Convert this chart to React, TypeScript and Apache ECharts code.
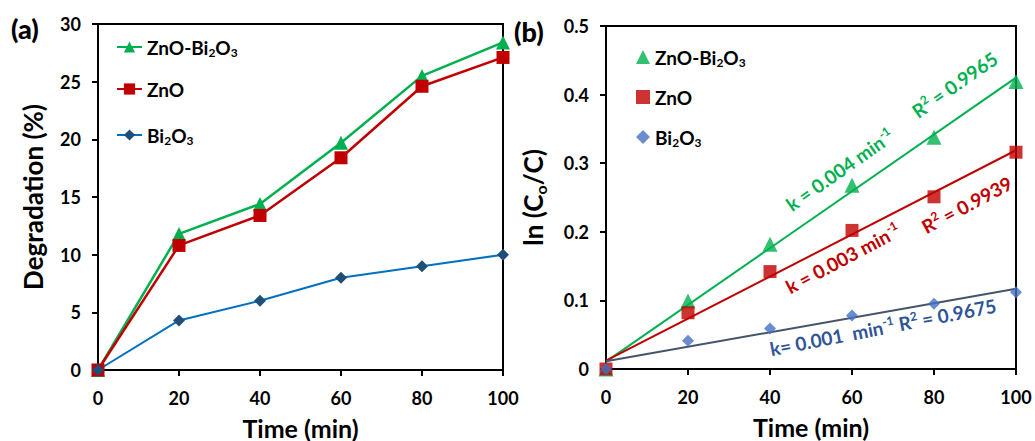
import React, { useEffect, useRef } from "react";
import * as echarts from "echarts";

// ---------- data ----------
const times = [0, 20, 40, 60, 80, 100];
// panel (a): degradation (%)
const degZnOBi = [0, 11.8, 14.4, 19.7, 25.5, 28.4];
const degZnO = [0, 10.8, 13.4, 18.4, 24.6, 27.1];
const degBi = [0, 4.3, 6.0, 8.0, 9.0, 10.0];
// panel (b): ln(C0/C)
const lnZnOBi = [0, 0.099, 0.182, 0.268, 0.338, 0.419];
const lnZnO = [0, 0.082, 0.142, 0.202, 0.251, 0.316];
const lnBi = [0, 0.041, 0.059, 0.078, 0.095, 0.112];
// axes
const xMin = 0, xMax = 100, xStep = 20;
const degMin = 0, degMax = 30, degStep = 5;
const lnMin = 0, lnMax = 0.5, lnStep = 0.1;
// annotation texts
const kZnOBi = "k = 0.004 min{sup|-1}";
const r2ZnOBi = "R{sup|2} = 0.9965";
const kZnO = "k = 0.003 min{sup|-1}";
const r2ZnO = "R{sup|2} = 0.9939";
const kBi = "k= 0.001  min{sup|-1} R{sup|2} = 0.9675";

const FONT = "Lato, 'Open Sans', sans-serif";
const GREEN = "#00b050";
const RED = "#c00000";
const BLUE_LINE = "#0070c0";
const NAVY = "#1f4e79";
const BLUE_PT = "#4472c4";
const SLATE = "#44546a";

const pairs = (ys: number[]) => times.map((t, i) => [t, ys[i]]);

function fit(ys: number[]) {
  const n = times.length;
  const mx = times.reduce((a, b) => a + b, 0) / n;
  const my = ys.reduce((a, b) => a + b, 0) / n;
  let sxy = 0, sxx = 0;
  times.forEach((t, i) => {
    sxy += (t - mx) * (ys[i] - my);
    sxx += (t - mx) * (t - mx);
  });
  const m = sxy / sxx;
  const b = my - m * mx;
  return [[xMin, b], [xMax, b + m * xMax]];
}

const subRich = {
  sub: { fontSize: 12, lineHeight: 12, verticalAlign: "bottom", fontWeight: "bold", fontFamily: FONT, color: "#000" },
};
const chemLabel = (s: string) => s.replace(/(\d)/g, "{sub|$1}");

export default function App() {
  const ref = useRef<HTMLDivElement>(null);
  useEffect(() => {
    if (!ref.current) return;
    const chart = echarts.init(ref.current, undefined, { renderer: "svg" });

    const xAxisBase = (gridIndex: number) => ({
      type: "value",
      gridIndex,
      min: xMin,
      max: xMax,
      interval: xStep,
      axisLine: { show: true, onZero: false, lineStyle: { color: "#000", width: 2 } },
      axisTick: { show: true, inside: false, length: 6, lineStyle: { color: "#000", width: 2 } },
      axisLabel: { color: "#000", fontSize: 18, fontWeight: "bold", fontFamily: FONT, margin: 19 },
      splitLine: { show: false },
      name: "Time (min)",
      nameLocation: "middle",
      nameGap: 45,
      nameTextStyle: { color: "#000", fontSize: 25, fontWeight: "bold", fontFamily: FONT },
    });
    const yAxisBase = (gridIndex: number, min: number, max: number, interval: number) => ({
      type: "value",
      gridIndex,
      min,
      max,
      interval,
      axisLine: { show: true, onZero: false, lineStyle: { color: "#000", width: 2 } },
      axisTick: { show: true, inside: false, length: 6, lineStyle: { color: "#000", width: 2 } },
      axisLabel: { color: "#000", fontSize: 18, fontWeight: "bold", fontFamily: FONT, margin: 17 },
      splitLine: { show: false },
      nameLocation: "middle",
      nameRotate: 90,
    });

    const legendBase = (name: string, left: number, top: number, w: number) => ({
      data: [name],
      left,
      top,
      padding: 0,
      itemWidth: w,
      itemHeight: 14,
      selectedMode: false,
      formatter: (n: string) => chemLabel(n.split(":")[1]),
      textStyle: {
        color: "#000",
        fontSize: 19,
        fontWeight: "bold",
        fontFamily: FONT,
        lineHeight: 22,
        rich: subRich,
      },
    });

    const ann = (text: string, x: number, y: number, deg: number, color: string) => ({
      type: "text",
      x,
      y,
      rotation: (deg * Math.PI) / 180,
      style: {
        text,
        fill: color,
        fontSize: 19,
        fontWeight: "bold",
        fontFamily: FONT,
        lineHeight: 22,
        textAlign: "left",
        textVerticalAlign: "middle",
        rich: {
          sup: { fontSize: 12, lineHeight: 12, verticalAlign: "top", fontWeight: "bold", fontFamily: FONT, fill: color, color },
        },
      },
      z: 100,
    });

    const option: any = {
      animation: false,
      backgroundColor: "#fff",
      grid: [
        { left: 98, top: 24, width: 405, height: 346, show: true, borderColor: "#000", borderWidth: 2, containLabel: false, outerBoundsMode: "none" },
        { left: 606, top: 26, width: 410, height: 343, show: true, borderColor: "#000", borderWidth: 2, containLabel: false, outerBoundsMode: "none" },
      ],
      xAxis: [xAxisBase(0), xAxisBase(1)],
      yAxis: [
        {
          ...yAxisBase(0, degMin, degMax, degStep),
          name: "Degradation (%)",
          nameGap: 52,
          nameTextStyle: { color: "#000", fontSize: 26, fontWeight: "bold", fontFamily: FONT },
        },
        {
          ...yAxisBase(1, lnMin, lnMax, lnStep),
          name: "ln (C{sub|o}/C)",
          nameGap: 58,
          nameTextStyle: {
            color: "#000",
            fontSize: 26,
            fontWeight: "bold",
            fontFamily: FONT,
            lineHeight: 30,
            rich: { sub: { fontSize: 16, lineHeight: 16, verticalAlign: "bottom", fontWeight: "bold", fontFamily: FONT, color: "#000" } },
          },
        },
      ],
      legend: [
        legendBase("a:ZnO-Bi2O3", 116, 36, 25),
        legendBase("a:ZnO", 116, 78, 25),
        legendBase("a:Bi2O3", 116, 124, 25),
        legendBase("b:ZnO-Bi2O3", 636, 46, 14),
        legendBase("b:ZnO", 636, 86, 14),
        legendBase("b:Bi2O3", 636, 126, 14),
      ],
      series: [
        // panel (a)
        {
          name: "a:ZnO-Bi2O3", type: "line", xAxisIndex: 0, yAxisIndex: 0,
          data: pairs(degZnOBi), symbol: "triangle", symbolSize: 14,
          itemStyle: { color: GREEN }, lineStyle: { color: GREEN, width: 2.5 },
        },
        {
          name: "a:ZnO", type: "line", xAxisIndex: 0, yAxisIndex: 0,
          data: pairs(degZnO), symbol: "rect", symbolSize: 13,
          itemStyle: { color: RED }, lineStyle: { color: RED, width: 2.5 },
        },
        {
          name: "a:Bi2O3", type: "line", xAxisIndex: 0, yAxisIndex: 0,
          data: pairs(degBi), symbol: "diamond", symbolSize: 12,
          itemStyle: { color: NAVY }, lineStyle: { color: BLUE_LINE, width: 2 },
        },
        // panel (b) trend lines
        {
          name: "fitZnOBi", type: "line", xAxisIndex: 1, yAxisIndex: 1, data: fit(lnZnOBi),
          showSymbol: false, symbol: "none", lineStyle: { color: GREEN, width: 2 }, z: 1,
        },
        {
          name: "fitZnO", type: "line", xAxisIndex: 1, yAxisIndex: 1, data: fit(lnZnO),
          showSymbol: false, symbol: "none", lineStyle: { color: RED, width: 2 }, z: 1,
        },
        {
          name: "fitBi", type: "line", xAxisIndex: 1, yAxisIndex: 1, data: fit(lnBi),
          showSymbol: false, symbol: "none", lineStyle: { color: SLATE, width: 2 }, z: 1,
        },
        // panel (b) points
        {
          name: "b:ZnO-Bi2O3", type: "scatter", xAxisIndex: 1, yAxisIndex: 1,
          data: pairs(lnZnOBi), symbol: "triangle", symbolSize: 15, itemStyle: { color: GREEN }, z: 3,
        },
        {
          name: "b:ZnO", type: "scatter", xAxisIndex: 1, yAxisIndex: 1,
          data: pairs(lnZnO), symbol: "rect", symbolSize: 13, itemStyle: { color: RED }, z: 3,
        },
        {
          name: "b:Bi2O3", type: "scatter", xAxisIndex: 1, yAxisIndex: 1,
          data: pairs(lnBi), symbol: "diamond", symbolSize: 12, itemStyle: { color: BLUE_PT }, z: 3,
        },
      ],
      graphic: [
        { type: "text", left: 11, top: 15, style: { text: "(a)", fill: "#000", fontSize: 27, fontWeight: 900, fontFamily: FONT } },
        { type: "text", left: 514, top: 18, style: { text: "(b)", fill: "#000", fontSize: 27, fontWeight: 900, fontFamily: FONT } },
        ann(kZnOBi, 788, 206, 35, GREEN),
        ann(r2ZnOBi, 914, 113, 35, GREEN),
        ann(kZnO, 787, 288, 28, RED),
        ann(r2ZnO, 923, 228, 28, RED),
        ann(kBi, 770, 349, 11, "#2f5597"),
      ],
    };
    chart.setOption(option);
    return () => chart.dispose();
  }, []);
  return <div ref={ref} style={{ position: "fixed", left: 0, top: 0, width: 1035, height: 441 }} />;
}
